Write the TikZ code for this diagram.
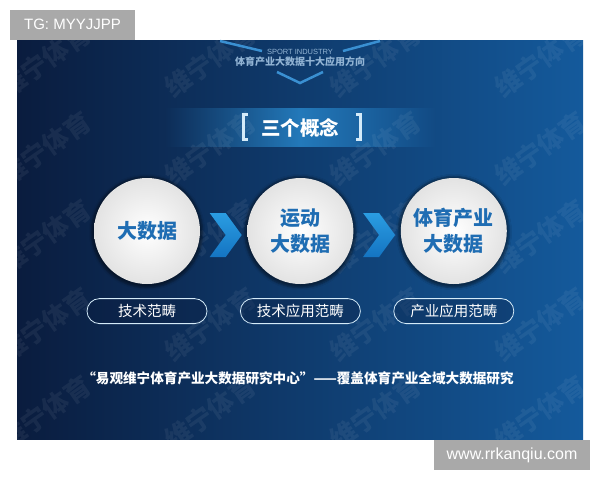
\documentclass[tikz,border=0pt]{standalone}
\usepackage{fontspec}
\setmainfont{Liberation Sans}
\newfontfamily\cjk{Noto Sans CJK SC}
\usetikzlibrary{positioning,shadows.blur}
\definecolor{navy}{HTML}{0A1C3E}
\definecolor{oceanblue}{HTML}{145A9C}
\definecolor{bandmid}{HTML}{2379BA}
\definecolor{conceptblue}{HTML}{1F6DB3}
\definecolor{chevtop}{HTML}{2A9DE2}
\definecolor{chevbottom}{HTML}{1474C2}
\definecolor{headgrey}{HTML}{92B4D4}
\definecolor{headline}{HTML}{3A90D2}
\definecolor{taggrey}{HTML}{A9A9A9}

\begin{document}
\begin{tikzpicture}[
  x=1pt, y=-1pt,
  concept/.style={circle, minimum size=106pt, inner sep=0pt, inner color=white, outer color=black!11, text=conceptblue, align=center, font=\cjk\bfseries\fontsize{20}{26}\selectfont, blur shadow={shadow xshift=0pt, shadow yshift=-1pt, shadow scale=1.05, shadow opacity=45}},
  field/.style={rectangle, rounded corners=12.5pt, draw=white!80!chevtop, line width=0.8pt, fill=navy, fill opacity=0.3, text opacity=1, text=white, minimum width=120pt, minimum height=25pt, font=\cjk\fontsize{14.5}{16}\selectfont},
  tag/.style={rectangle, fill=taggrey, text=white, inner sep=0pt},
  chevron/.style={top color=chevtop, bottom color=chevbottom},
  brace/.style={draw=white!80!chevtop, line width=3pt},
  watermark/.style={text=white, opacity=0.06, rotate=35, font=\cjk\bfseries\fontsize{26}{30}\selectfont}
]
  \useasboundingbox[fill=white] (0,0) rectangle (600,480);

  % panel
  \shade[left color=navy, right color=oceanblue] (17,40) rectangle (583,439);
  \shade[left color=oceanblue!26!navy, right color=bandmid] (165,108) rectangle (300.5,146);
  \shade[left color=bandmid, right color=oceanblue!74!navy] (300,108) rectangle (435,146);
  \begin{scope}
    \clip (17,40) rectangle (583,439);
    \foreach \wy [count=\r] in {60,148,236,324,412}
      \foreach \wx [count=\c] in {45,210,375,540}
        \node[watermark] (wm-\r-\c) at (\wx,\wy) {维宁体育};
  \end{scope}

  % header
  \draw[headline, line width=2.5pt] (220,41) -- (262,51);
  \draw[headline, line width=2.5pt] (380,41) -- (343,51);
  \draw[headline, line width=2.5pt] (277,72) -- (300,83) -- (323,72);
  \node[text=headgrey, font=\fontsize{7.5}{8}\selectfont] (sport) at (300,52) {SPORT INDUSTRY};
  \node[text=headgrey, font=\cjk\bfseries\fontsize{10}{11}\selectfont] (subtitle) at (300,62) {体育产业大数据十大应用方向};

  % title
  \node[inner sep=0pt, text=white, font=\cjk\bfseries\fontsize{19.5}{20}\selectfont] (concepts) at (300,128) {三个概念};
  \draw[brace] ([shift={(-13,-14)}]concepts.west) -- ++(-4,0) -- ++(0,25) -- ++(4,0);
  \draw[brace] ([shift={(17,-14)}]concepts.east) -- ++(4,0) -- ++(0,25) -- ++(-4,0);

  % concepts
  \node[concept] (bigdata) at (147,231) {大数据};
  \node[concept, right=47pt of bigdata] (sportdata) {运动\\大数据};
  \node[concept, right=47pt of sportdata] (industrydata) {体育产业\\大数据};

  \node[field, below=14pt of bigdata] (techfield) {技术范畴};
  \node[field, below=14pt of sportdata] (appfield) {技术应用范畴};
  \node[field, below=14pt of industrydata] (industryfield) {产业应用范畴};

  \path (bigdata) -- (sportdata) coordinate[midway] (gap1);
  \path (sportdata) -- (industrydata) coordinate[midway] (gap2);
  \foreach \g in {gap1,gap2}
    \shade[chevron] ([shift={(-14,-18)}]\g) -- ++(16,0) -- ++(16,22) -- ++(-16,22) -- ++(-16,0) -- ++(16,-22) -- cycle;

  % footer
  \node[text=white, font=\cjk\bfseries\fontsize{13.6}{14}\selectfont] (slogan) at (298,378) {“易观维宁体育产业大数据研究中心”——覆盖体育产业全域大数据研究};

  \node[tag, minimum width=125pt, minimum height=29.5pt, font=\fontsize{15}{18}\selectfont] (tgtag) at (72.5,24.75) {TG: MYYJJPP};
  \node[tag, minimum width=156pt, minimum height=30pt, font=\fontsize{16}{18}\selectfont] (sitetag) at (512,455) {www.rrkanqiu.com};
\end{tikzpicture}
\end{document}
